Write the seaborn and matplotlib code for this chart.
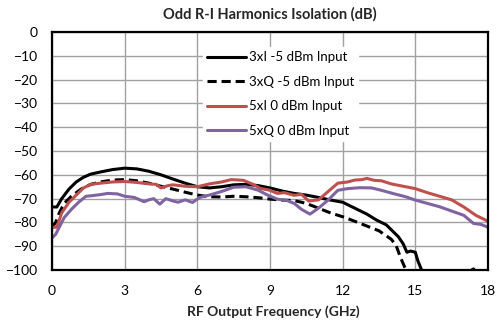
import pandas as pd
import matplotlib
matplotlib.use('Agg')
import matplotlib.pyplot as plt
import seaborn as sns

# 3xI -5 dBm input
freq_3xi = [0, 0.2, 0.4, 0.7, 1.0, 1.3, 1.6, 2.0, 2.5, 3.0, 3.5, 4.0, 4.5, 5.0, 5.5, 6.0,
            6.5, 7.0, 7.5, 8.0, 8.5, 9.0, 9.5, 10.0, 10.5, 11.0, 11.5, 12.0, 12.3, 12.7,
            13.0, 13.4, 13.8, 14.1, 14.3, 14.5, 14.65, 14.8, 15.0, 15.1, 15.3, 16.0, 17.0,
            17.4, 17.6, 18.0]
iso_3xi = [-73.5, -73.5, -70, -66, -63, -61, -59.7, -58.8, -57.8, -57.2, -57.5, -58.5, -60,
           -61.8, -63.5, -65, -65.5, -65, -64.2, -64, -64.5, -65.5, -66.8, -67.8, -68.5,
           -69.5, -70.6, -71.5, -73, -75, -76.5, -79, -81, -84, -86, -89, -92.5, -92,
           -92.5, -96, -101, -104, -102, -99.5, -102, -104]

# 3xQ -5 dBm input
freq_3xq = [0, 0.15, 0.3, 0.5, 0.8, 1.2, 1.6, 2.0, 2.5, 3.0, 3.5, 4.0, 4.5, 5.0, 5.5, 6.0,
            6.5, 7.0, 7.5, 8.0, 8.5, 9.0, 9.5, 10.0, 10.5, 11.0, 11.5, 12.0, 12.5, 13.0,
            13.5, 14.0, 14.2, 14.4, 14.55, 14.7, 15.0]
iso_3xq = [-82, -80, -76, -72, -69, -66, -64, -63, -62.2, -62, -62.5, -63.5, -64.8, -66,
           -67.3, -68.5, -69.2, -69.3, -69, -69.2, -69.6, -70.2, -70.6, -70.8, -72, -74,
           -76, -77.6, -79.5, -81.5, -83.5, -87, -89.5, -95, -98.5, -101, -104]

# 5xI 0 dBm input
freq_5xi = [0, 0.2, 0.4, 0.7, 1.0, 1.3, 1.6, 2.0, 2.5, 3.0, 3.5, 4.0, 4.3, 4.5, 4.8, 5.0,
            5.5, 6.0, 6.5, 7.0, 7.4, 7.9, 8.3, 8.6, 9.0, 9.3, 9.6, 10.0, 10.3, 10.6, 11.0,
            11.4, 11.8, 12.2, 12.5, 12.8, 13.0, 13.3, 13.6, 14.0, 14.5, 15.0, 15.5, 16.0,
            16.5, 17.0, 17.5, 18.0]
iso_5xi = [-82, -82, -76, -71.5, -68.5, -65.5, -64, -63.5, -63, -62.8, -63.2, -63.8, -64,
           -65.5, -64.5, -64.2, -64.8, -65, -63.8, -63, -62, -62.3, -64, -65.7, -66.5,
           -67.8, -67.5, -68.6, -68.2, -71, -70.5, -67, -63.5, -63, -62.2, -62, -61.5,
           -62.3, -62.5, -63.8, -64.8, -65.8, -67.5, -69, -70.5, -73.5, -77, -79.5]

# 5xQ 0 dBm input
freq_5xq = [0, 0.15, 0.3, 0.5, 0.8, 1.1, 1.4, 1.7, 2.0, 2.3, 2.7, 3.0, 3.4, 3.8, 4.0, 4.2,
            4.45, 4.7, 5.0, 5.2, 5.5, 5.8, 6.1, 6.5, 7.0, 7.5, 8.0, 8.5, 8.9, 9.3, 9.7,
            10.0, 10.3, 10.65, 11.0, 11.4, 11.8, 12.2, 12.7, 13.2, 13.6, 14.1, 14.6, 15.0,
            15.5, 16.0, 16.5, 17.0, 17.4, 17.7, 18.0]
iso_5xq = [-86.5, -85, -82, -78, -74.5, -71.5, -69, -68.7, -68.3, -67.8, -68, -69, -69.5,
           -71.3, -70.5, -70, -72.3, -70, -71, -71.5, -70.5, -71.6, -69.5, -68.5, -67,
           -65.2, -65, -66.4, -68.5, -70.2, -70.8, -72, -74.5, -76.5, -74, -70.6, -66.5,
           -65.8, -65.4, -65.5, -66.5, -67.9, -69.2, -70.6, -72, -73.4, -75.2, -77, -80.4,
           -80.8, -82]

x_ticks = [0, 3, 6, 9, 12, 15, 18]
y_ticks = [0, -10, -20, -30, -40, -50, -60, -70, -80, -90, -100]

sns.set_theme(style='white')
plt.rcParams['font.family'] = ['Lato', 'DejaVu Sans']

fig, ax = plt.subplots(figsize=(5.0, 3.29), dpi=100)
fig.subplots_adjust(left=0.104, right=0.976, top=0.903, bottom=0.179)

series = [
    (freq_3xi, iso_3xi, '3xI -5 dBm Input', 'black', '-'),
    (freq_3xq, iso_3xq, '3xQ -5 dBm Input', 'black', '--'),
    (freq_5xi, iso_5xi, '5xI 0 dBm Input', '#C0504D', '-'),
    (freq_5xq, iso_5xq, '5xQ 0 dBm Input', '#8064A2', '-'),
]
for fx, fy, label, color, ls in series:
    sns.lineplot(x=fx, y=fy, ax=ax, color=color, linewidth=2.2, label=label)
    if ls == '--':
        ax.lines[-1].set_dashes([3, 1.6])

ax.set_xlim(0, 18)
ax.set_ylim(-100, 0)
ax.set_xticks(x_ticks)
ax.set_yticks(y_ticks)
ax.tick_params(axis='both', labelsize=10, length=0, colors='black')
ax.tick_params(axis='x', pad=11)
ax.tick_params(axis='y', pad=10)
ax.grid(True, color='#A0A0A0', linewidth=1.0)
for side in ax.spines.values():
    side.set_color('black')
    side.set_linewidth(1.6)

leg = ax.legend(loc='upper left', bbox_to_anchor=(0.346, 0.935), fontsize=9.5,
                frameon=True, facecolor='white', edgecolor='white', framealpha=1,
                handlelength=3.0, handletextpad=0.2, labelspacing=0.95,
                borderpad=0.3, borderaxespad=0, fancybox=False)
for text in leg.get_texts():
    text.set_color('black')

fig.text(0.54, 1 - 14 / 329, 'Odd R-I Harmonics Isolation (dB)', ha='center', va='center',
         fontsize=10.5, fontweight='bold')
fig.text(0.547, 1 - 312 / 329, 'RF Output Frequency (GHz)', ha='center', va='center',
         fontsize=10, fontweight='bold')

fig.savefig('out.png', dpi=100)
